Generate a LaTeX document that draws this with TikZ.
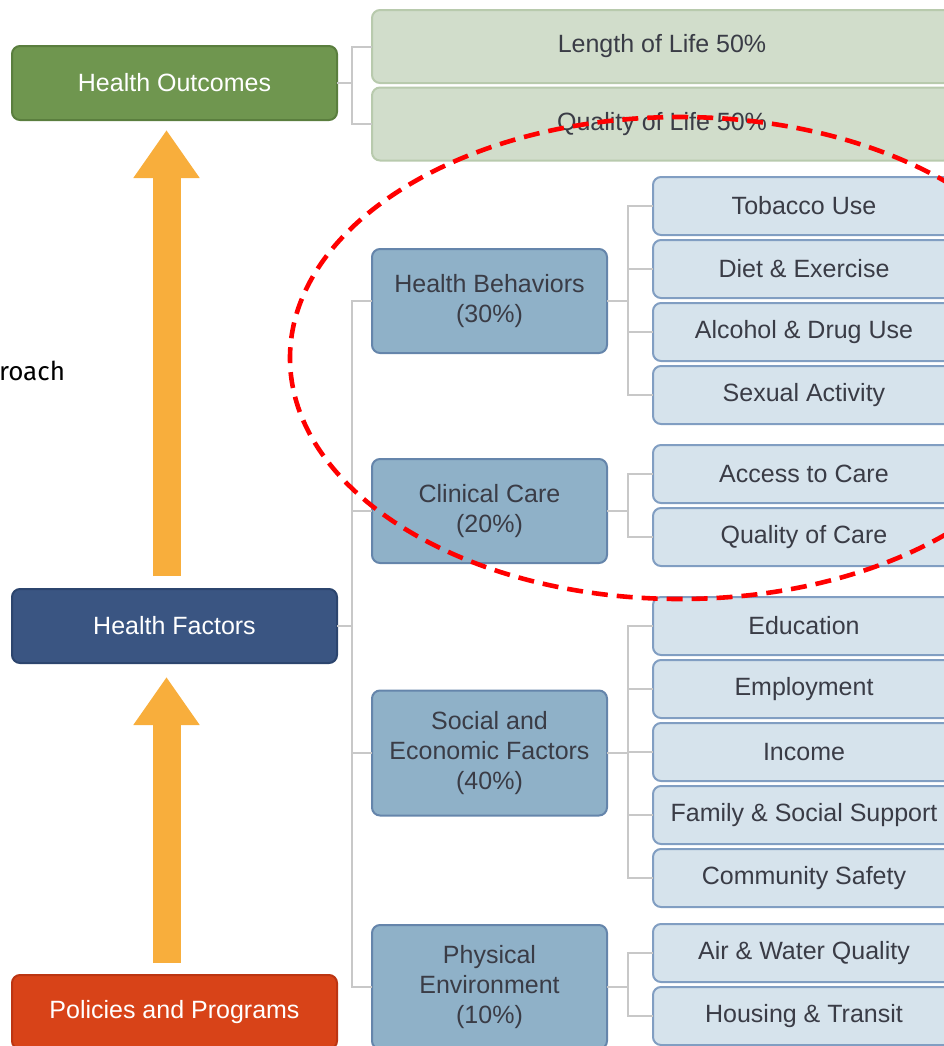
\documentclass[tikz,border=0pt]{standalone}
\usepackage{fontspec}
\setmainfont{Liberation Sans}
\newfontfamily\sidefont{Fira Sans}
\usepackage{tikz}
\usetikzlibrary{positioning}
\usetikzlibrary{arrows.meta}

\definecolor{outcomegreen}{HTML}{6F964F}
\definecolor{outcomeline}{HTML}{5A7E3E}
\definecolor{factorblue}{HTML}{3A5582}
\definecolor{factorline}{HTML}{2C456E}
\definecolor{policyred}{HTML}{D84318}
\definecolor{policyline}{HTML}{BC3512}
\definecolor{growthorange}{HTML}{F8AE3C}
\definecolor{catfill}{HTML}{8FB1C8}
\definecolor{catline}{HTML}{6585AB}
\definecolor{leaffill}{HTML}{D6E3EC}
\definecolor{leafline}{HTML}{819EC2}
\definecolor{lifefill}{HTML}{D1DDCB}
\definecolor{lifeline}{HTML}{B8CAAD}
\definecolor{linkgray}{HTML}{C8C8C8}
\definecolor{boxtext}{HTML}{3A3C46}

\begin{document}
\begin{tikzpicture}[
            x = 0.5pt, y = -0.5pt, % pixel grid, y runs down
            font = \fontsize{12.5}{15}\selectfont,
            node distance = 2.5pt, % gap between stacked boxes
            semithick
        ]

        \tikzstyle{every node}=[outer sep = 0pt, inner sep = 2pt]
        \tikzstyle{level}=[
            draw,
            rounded corners = 4pt,
            line width = 1pt,
            text = white,
            minimum width = 162.5pt,
            minimum height = 37pt
        ]
        \tikzstyle{life}=[level, fill = lifefill, draw = lifeline,
            text = boxtext, minimum width = 290pt, minimum height = 36.5pt]
        \tikzstyle{category}=[level, fill = catfill, draw = catline,
            text = boxtext, align = center, minimum width = 117.5pt,
            minimum height = 52pt]
        \tikzstyle{leaf}=[level, fill = leaffill, draw = leafline,
            text = boxtext, minimum width = 151pt, minimum height = 29pt]
        \tikzstyle{link}=[draw = linkgray, line width = 1pt]
        \tikzstyle{growth}=[draw = growthorange, line width = 14pt,
            -{Triangle[width = 31.5pt, length = 24pt]}]

        \clip (0,0) rectangle (944,1046);

	% left column
        \node[level, fill = outcomegreen, draw = outcomeline] (HO) at (174.5,83) {Health Outcomes};
        \node[level, fill = factorblue, draw = factorline] (HF) at (174.5,626) {Health Factors};
        \node[level, fill = policyred, draw = policyline] (PP) at (174.5,1012) {Policies and Programs};

        \draw[growth, shorten < = 6.5pt, shorten > = 5pt] ([xshift = -4pt]HF.north) -- ([xshift = -4pt]HO.south);
        \draw[growth, shorten < = 6pt, shorten > = 7pt] ([xshift = -4pt]PP.north) -- ([xshift = -4pt]HF.south);

        \node[anchor = east, font = \sidefont\fontsize{13}{15}\selectfont] (side) at (69,371) {roach};

	% outcomes
        \node[life] (LL) at (662,46.5) {Length of Life 50\%};
        \node[life] (QL) at (662,124) {Quality of Life 50\%};

        \draw[link] (HO.east) -- ++(15,0) |- (LL.west);
        \draw[link] (HO.east) -- ++(15,0) |- (QL.west);

	% factors
        \node[category] (HB) at (489.5,301) {Health Behaviors\\(30\%)};
        \node[category] (CC) at (489.5,511) {Clinical Care\\(20\%)};
        \node[category, minimum height = 62.5pt] (SE) at (489.5,753) {Social and\\Economic Factors\\(40\%)};
        \node[category, minimum height = 62pt] (PE) at (489.5,987) {Physical\\Environment\\(10\%)};

        \foreach \c in {HB, CC, SE, PE}
            \draw[link] (HF.east) -- ++(15,0) |- (\c.west);

	% behaviors
        \node[leaf] (TU) at (804,206) {Tobacco Use};
        \node[leaf] (DE) [below = of TU] {Diet \& Exercise};
        \node[leaf] (AD) [below = of DE] {Alcohol \& Drug Use};
        \node[leaf] (SA) [below = of AD] {Sexual Activity};

	% care
        \node[leaf] (AC) at (804,474) {Access to Care};
        \node[leaf] (QC) [below = of AC] {Quality of Care};

	% social and economic
        \node[leaf] (ED) at (804,626) {Education};
        \node[leaf] (EM) [below = of ED] {Employment};
        \node[leaf] (IN) [below = of EM] {Income};
        \node[leaf] (FS) [below = of IN] {Family \& Social Support};
        \node[leaf] (CS) [below = of FS] {Community Safety};

	% environment
        \node[leaf] (AW) at (804,953) {Air \& Water Quality};
        \node[leaf] (HT) [below = of AW] {Housing \& Transit};

        \foreach \l in {TU, DE, AD, SA}
            \draw[link] (HB.east) -- ++(21,0) |- (\l.west);
        \foreach \l in {AC, QC}
            \draw[link] (CC.east) -- ++(21,0) |- (\l.west);
        \foreach \l in {ED, EM, IN, FS, CS}
            \draw[link] (SE.east) -- ++(21,0) |- (\l.west);
        \foreach \l in {AW, HT}
            \draw[link] (PE.east) -- ++(21,0) |- (\l.west);

	% highlight round behaviors and care
        \draw[red, line width = 2.3pt, dash pattern = on 8pt off 4.5pt] (680,358) ellipse [x radius = 390, y radius = 241];

  \end{tikzpicture}
\end{document}
